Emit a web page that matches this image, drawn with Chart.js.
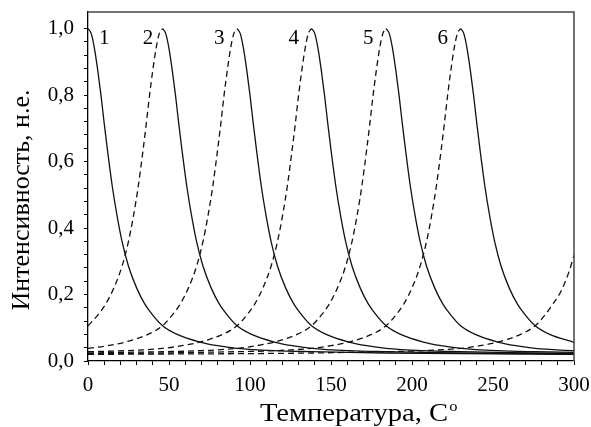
<!DOCTYPE html>
<html>
<head>
<meta charset="utf-8">
<script src="https://cdn.jsdelivr.net/npm/chart.js"></script>
<style>
  body { margin: 0; background: #fff; }
  #wrap { width: 591px; height: 427px; }
</style>
</head>
<body>
<div id="wrap"><canvas id="peaksChart" width="591" height="427"></canvas></div>
<script>
// [temperature, intensity]
// falling (solid) branches, peaks 1..6
const fall1 = [[0,1],[2,.985],[4,.94],[6,.875],[8,.8],[10,.715],[12,.635],[15,.525],[18,.435],[21,.36],[25,.285],[30,.22],[35,.172],[40,.138],[46,.106],[55,.08],[69,.057],[80,.046],[92,.038],[115,.031],[138,.028],[161,.026],[184,.024],[230,.022],[276,.021],[300,.02]]
const fall2 = [[46,1],[48,.985],[50,.94],[52,.875],[54,.8],[56,.715],[58,.635],[61,.525],[64,.435],[67,.36],[71,.285],[76,.22],[81,.172],[86,.138],[92,.106],[101,.08],[115,.057],[126,.046],[138,.038],[161,.031],[184,.028],[207,.026],[230,.024],[276,.022],[300,.021]]
const fall3 = [[92,1],[94,.985],[96,.94],[98,.875],[100,.8],[102,.715],[104,.635],[107,.525],[110,.435],[113,.36],[117,.285],[122,.22],[127,.172],[132,.138],[138,.106],[147,.08],[161,.057],[172,.046],[184,.038],[207,.031],[230,.028],[253,.026],[276,.024],[300,.023]]
const fall4 = [[138,1],[140,.985],[142,.94],[144,.875],[146,.8],[148,.715],[150,.635],[153,.525],[156,.435],[159,.36],[163,.285],[168,.22],[173,.172],[178,.138],[184,.106],[193,.08],[207,.057],[218,.046],[230,.038],[253,.031],[276,.028],[300,.026]]
const fall5 = [[184,1],[186,.985],[188,.94],[190,.875],[192,.8],[194,.715],[196,.635],[199,.525],[202,.435],[205,.36],[209,.285],[214,.22],[219,.172],[224,.138],[230,.106],[239,.08],[253,.057],[264,.046],[276,.038],[300,.031]]
const fall6 = [[230,1],[232,.985],[234,.94],[236,.875],[238,.8],[240,.715],[242,.635],[245,.525],[248,.435],[251,.36],[255,.285],[260,.22],[265,.172],[270,.138],[276,.106],[285,.08],[300,.056]]

// rising (dashed) branches, peaks 2..6 and the one past 300
const rise2 = [[0,.106],[6,.138],[11,.172],[16,.22],[21,.285],[25,.36],[28,.435],[31,.525],[34,.635],[36,.715],[38,.8],[40,.875],[42,.94],[44,.985],[46,1]]
const rise3 = [[0,.038],[12,.046],[23,.057],[37,.08],[46,.106],[52,.138],[57,.172],[62,.22],[67,.285],[71,.36],[74,.435],[77,.525],[80,.635],[82,.715],[84,.8],[86,.875],[88,.94],[90,.985],[92,1]]
const rise4 = [[0,.028],[23,.031],[46,.038],[58,.046],[69,.057],[83,.08],[92,.106],[98,.138],[103,.172],[108,.22],[113,.285],[117,.36],[120,.435],[123,.525],[126,.635],[128,.715],[130,.8],[132,.875],[134,.94],[136,.985],[138,1]]
const rise5 = [[0,.024],[23,.026],[46,.028],[69,.031],[92,.038],[104,.046],[115,.057],[129,.08],[138,.106],[144,.138],[149,.172],[154,.22],[159,.285],[163,.36],[166,.435],[169,.525],[172,.635],[174,.715],[176,.8],[178,.875],[180,.94],[182,.985],[184,1]]
const rise6 = [[0,.022],[46,.024],[69,.026],[92,.028],[115,.031],[138,.038],[150,.046],[161,.057],[175,.08],[184,.106],[190,.138],[195,.172],[200,.22],[205,.285],[209,.36],[212,.435],[215,.525],[218,.635],[220,.715],[222,.8],[224,.875],[226,.94],[228,.985],[230,1]]
const rise7 = [[0,.02],[46,.021],[92,.022],[138,.024],[161,.026],[184,.028],[207,.031],[230,.038],[242,.046],[253,.057],[267,.08],[276,.106],[282,.138],[287,.172],[292,.21],[297,.27],[300,.318]]

const peakNames = ['1', '2', '3', '4', '5', '6']
const peakNameT = [10, 37, 81, 127, 173, 219]
const peakNameI = 0.97

const serif = "'Liberation Serif', 'Times New Roman', serif"

function line(data, dashed) {
  return {
    data,
    borderColor: '#111',
    borderWidth: 1.3,
    borderDash: dashed ? [6, 4] : [],
    pointRadius: 0,
    fill: false,
    cubicInterpolationMode: 'monotone'
  }
}

const frame = {
  id: 'frame',
  afterDraw(chart) {
    const { ctx, chartArea: a, scales } = chart
    ctx.save()
    ctx.strokeStyle = '#444'
    ctx.lineWidth = 1.5
    ctx.beginPath()
    ctx.moveTo(a.left, a.top)
    ctx.lineTo(a.right, a.top)
    ctx.lineTo(a.right, a.bottom)
    ctx.stroke()

    ctx.fillStyle = '#000'
    ctx.font = `21px ${serif}`
    ctx.textAlign = 'center'
    ctx.textBaseline = 'middle'
    peakNames.forEach((n, i) => {
      ctx.fillText(n, scales.x.getPixelForValue(peakNameT[i]), scales.y.getPixelForValue(peakNameI))
    })

    // x title with superscript
    const main = 'Температура, С'
    ctx.font = `26px ${serif}`
    ctx.textBaseline = 'alphabetic'
    ctx.textAlign = 'left'
    const w = ctx.measureText(main).width * 1.1
    const cx = (a.left + a.right) / 2 + 28
    ctx.save()
    ctx.translate(cx - w / 2 - 5, a.bottom + 60)
    ctx.scale(1.1, 1)
    ctx.fillText(main, 0, 0)
    ctx.font = `15px ${serif}`
    ctx.fillText('o', w / 1.1 + 1, -10)
    ctx.restore()

    // y title
    ctx.save()
    ctx.translate(22, 200)
    ctx.rotate(-Math.PI / 2)
    ctx.font = `26px ${serif}`
    ctx.textAlign = 'center'
    ctx.textBaseline = 'middle'
    ctx.fillText('Интенсивность, н.е.', 0, 0)
    ctx.restore()
    ctx.restore()
  }
}

const chart = new Chart(document.getElementById('peaksChart'), {
  type: 'line',
  data: {
    datasets: [
      line(fall1), line(fall2), line(fall3), line(fall4), line(fall5), line(fall6),
      line(rise2, true), line(rise3, true), line(rise4, true), line(rise5, true), line(rise6, true), line(rise7, true)
    ]
  },
  options: {
    responsive: false,
    animation: false,
    layout: { padding: { top: 12, right: 17, left: 0, bottom: 0 } },
    plugins: {
      legend: { display: false },
      tooltip: { enabled: false }
    },
    scales: {
      x: {
        type: 'linear',
        min: 0,
        max: 300,
        afterFit(scale) {
          scale.height = 66
          scale.paddingLeft = 0
          scale.paddingRight = 0
        },
        border: { display: true, color: '#000', width: 1.3 },
        grid: { drawOnChartArea: false, drawTicks: true, tickLength: 4, color: '#000' },
        ticks: {
          stepSize: 10,
          autoSkip: false,
          maxRotation: 0,
          color: '#000',
          padding: 8,
          font: { family: serif, size: 21 },
          callback: v => v % 50 === 0 ? String(v) : ''
        }
      },
      y: {
        min: 0,
        max: 1.05,
        afterFit(scale) {
          scale.width = 88
          scale.paddingTop = 0
          scale.paddingBottom = 0
        },
        afterBuildTicks(scale) {
          scale.ticks = scale.ticks.filter(t => t.value <= 1.041)
        },
        border: { display: true, color: '#000', width: 1.3 },
        grid: { drawOnChartArea: false, drawTicks: true, tickLength: 4, color: '#000' },
        ticks: {
          stepSize: 0.04,
          autoSkip: false,
          color: '#000',
          padding: 10,
          font: { family: serif, size: 21 },
          callback: v => {
            const k = v / 0.2
            return Math.abs(k - Math.round(k)) < 1e-6 ? (Math.round(k) * 0.2).toFixed(1).replace('.', ',') : ''
          }
        }
      }
    }
  },
  plugins: [frame]
})
</script>
</body>
</html>
